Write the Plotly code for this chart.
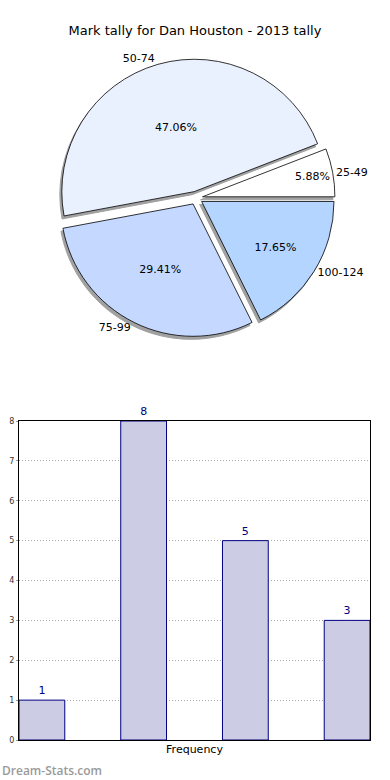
import plotly.graph_objects as go

title = "Mark tally for Dan Houston - 2013 tally"
categories = ["25-49", "50-74", "75-99", "100-124"]
counts = [1, 8, 5, 3]
pie_colors = ["#ffffff", "#eaf1fe", "#c5d8ff", "#b4d5ff"]
pull = [0.05, 0.05, 0.05, 0.05]
bar_fill = "#ccccE4"
bar_edge = "#000080"
y_ticks = [0, 1, 2, 3, 4, 5, 6, 7, 8]

W, H = 390, 780

# rotate so the first slice starts at 3 o'clock and runs counterclockwise
first_share = counts[0] / sum(counts)
rot = 90 - 360 * first_share

fig = go.Figure()

cx, cy, r = 196, 198, 139
def px_dom(cx, cy, r):
    return dict(x=[(cx - r) / W, (cx + r) / W], y=[1 - (cy + r) / H, 1 - (cy - r) / H])

# shadow pie
fig.add_trace(go.Pie(
    values=counts, labels=categories, sort=False, direction="counterclockwise",
    rotation=rot, pull=pull, domain=px_dom(cx - 2, cy + 3, r),
    marker=dict(colors=["#8a8a8a"] * 4, line=dict(color="#8a8a8a", width=1)),
    textinfo="none", hoverinfo="skip", showlegend=False, opacity=0.8,
))
# main pie with percentages inside
fig.add_trace(go.Pie(
    values=counts, labels=categories, sort=False, direction="counterclockwise",
    rotation=rot, pull=pull, domain=px_dom(cx, cy, r),
    marker=dict(colors=pie_colors, line=dict(color="#000000", width=0.8)),
    texttemplate="%{percent:.2%}", textposition="inside", insidetextorientation="horizontal",
    textfont=dict(family="DejaVu Sans", size=11, color="#000000"),
    showlegend=False,
))
# labels outside (transparent pie)
fig.add_trace(go.Pie(
    values=counts, labels=categories, sort=False, direction="counterclockwise",
    rotation=rot, pull=pull, domain=px_dom(cx, cy, r),
    marker=dict(colors=["rgba(0,0,0,0)"] * 4, line=dict(width=0)),
    texttemplate="%{label}", textposition="outside",
    textfont=dict(family="DejaVu Sans", size=11, color="#000000"),
    showlegend=False, hoverinfo="skip",
))

fig.add_trace(go.Bar(
    x=list(range(len(counts))), y=counts, width=0.45,
    marker=dict(color=bar_fill, line=dict(color=bar_edge, width=1)),
    text=[str(v) for v in counts], textposition="outside",
    textfont=dict(family="DejaVu Sans", size=11, color=bar_edge),
    cliponaxis=False, showlegend=False,
))

fig.update_layout(
    width=W, height=H,
    margin=dict(l=0, r=0, t=0, b=0),
    paper_bgcolor="white", plot_bgcolor="white",
    font=dict(family="DejaVu Sans", color="#000000"),
    title=dict(text=title, x=0.5, xanchor="center", yref="container", y=1 - 30 / H,
               yanchor="middle", font=dict(size=13, color="#000000")),
    xaxis=dict(domain=[19 / W, 370 / W], range=[-0.225, 3.225], showticklabels=False,
               ticks="", showgrid=False, zeroline=False, showline=True, linecolor="#000000",
               linewidth=1, mirror=True, fixedrange=True, automargin=False,
               title=dict(text="Frequency", font=dict(size=11, color="#000000"), standoff=5)),
    yaxis=dict(domain=[1 - 740 / H, 1 - 421 / H], range=[0, 8], tickvals=y_ticks,
               tickfont=dict(size=8, color="#333333"), ticks="outside", ticklen=2,
               tickcolor="#999999", showgrid=True, gridcolor="#aaaaaa", griddash="1px,2px",
               gridwidth=1, zeroline=False, showline=True, linecolor="#000000", linewidth=1,
               mirror=True, fixedrange=True, automargin=False),
    annotations=[dict(text="Dream-Stats.com", x=0, y=1 - 770 / H, xref="paper",
                      yref="paper", xanchor="left", yanchor="middle", showarrow=False,
                      font=dict(size=12, color="#9a9a9a", family="Open Sans", weight=600))],
)

fig.write_html("out.html", config={"displayModeBar": False},
               post_script="document.body.style.margin='0';")
